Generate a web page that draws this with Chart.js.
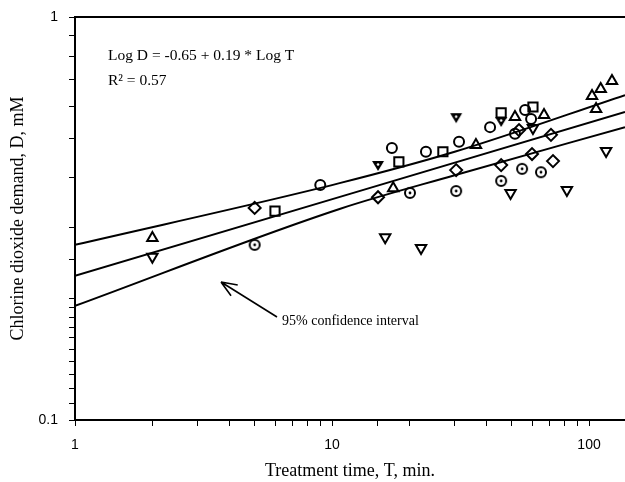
<!DOCTYPE html>
<html>
<head>
<meta charset="utf-8">
<script src="https://cdn.jsdelivr.net/npm/chart.js@4.4.1/dist/chart.umd.min.js"></script>
<style>
  html, body { margin: 0; padding: 0; background: #fff; overflow: hidden; }
  canvas { display: block; }
</style>
</head>
<body>
<canvas id="chart" width="625" height="482"></canvas>
<script>
// Treatment time T (min) vs chlorine dioxide demand D (mM)
const triUpT = [2.0, 17.3, 36.3, 51.5, 66.8, 102.7, 106.5, 111, 122.8];
const triUpD = [0.283, 0.376, 0.481, 0.565, 0.571, 0.637, 0.591, 0.663, 0.694];

const triDownT = [2.0, 16.1, 22.2, 49.5, 60.5, 82, 116.5];
const triDownD = [0.254, 0.284, 0.267, 0.366, 0.530, 0.372, 0.465];

const triDarkT = [15.1, 30.4, 45.5];
const triDarkD = [0.427, 0.561, 0.549];

const squareT = [6.0, 18.2, 27.0, 45.5, 60.5];
const squareD = [0.330, 0.437, 0.463, 0.578, 0.598];

const circleT = [9.0, 17.1, 23.2, 31.2, 41.2, 51.5, 56.4, 59.5];
const circleD = [0.383, 0.473, 0.463, 0.490, 0.533, 0.513, 0.588, 0.558];

const dotT = [5.0, 20.1, 30.4, 45.5, 54.9, 65.0];
const dotD = [0.272, 0.366, 0.370, 0.392, 0.420, 0.412];

const diamondT = [5.0, 15.1, 30.4, 45.5, 53.4, 60.0, 71.1, 72.4];
const diamondD = [0.336, 0.357, 0.417, 0.429, 0.524, 0.457, 0.510, 0.439];

// regression line and 95% confidence band
const fitT = [1, 138];
const fitD = [0.228, 0.581];
const bandT = [1, 10.7, 30, 138];
const upperD = [0.272, 0.387, 0.463, 0.640];
const lowerD = [0.192, 0.334, 0.405, 0.533];

const xTickLabels = [1, 10, 100];
const yTickLabels = [0.1, 1];

const pts = (xs, ys) => xs.map((x, i) => ({ x: x, y: ys[i] }));

// circle with a dot in the middle
function dotMarker() {
    const c = document.createElement('canvas');
    c.width = 14; c.height = 14;
    const g = c.getContext('2d');
    g.strokeStyle = '#000';
    g.lineWidth = 2;
    g.beginPath(); g.arc(7, 7, 5, 0, Math.PI * 2); g.stroke();
    g.fillStyle = '#000';
    g.beginPath(); g.arc(7, 7, 1.4, 0, Math.PI * 2); g.fill();
    return c;
}

// dark down-triangle with a small light centre
function darkTriMarker() {
    const c = document.createElement('canvas');
    c.width = 14; c.height = 14;
    const g = c.getContext('2d');
    g.fillStyle = '#000';
    g.beginPath(); g.moveTo(1, 2); g.lineTo(13, 2); g.lineTo(7, 12); g.closePath(); g.fill();
    g.fillStyle = '#fff';
    g.beginPath(); g.arc(7, 5.5, 1.3, 0, Math.PI * 2); g.fill();
    return c;
}

function lineSet(xs, ys) {
    return {
        type: 'line', data: pts(xs, ys), borderColor: '#000', borderWidth: 2,
        pointRadius: 0, fill: false, cubicInterpolationMode: 'monotone'
    };
}

function markerSet(xs, ys, style, r, rot) {
    return {
        type: 'scatter', data: pts(xs, ys), pointStyle: style, pointRadius: r,
        rotation: rot || 0, borderColor: '#000', borderWidth: 2,
        backgroundColor: 'rgba(0,0,0,0)'
    };
}

const isLabel = (v, list) => list.some(t => Math.abs(v / t - 1) < 1e-6);

// keep the plot frame at fixed pixel edges
function fixBox(s, w, h) {
    if (w !== null) s.width = w;
    if (h !== null) s.height = h;
    s.paddingLeft = 0; s.paddingRight = 0; s.paddingTop = 0; s.paddingBottom = 0;
}

// equation, R^2 and the confidence-interval arrow
const notes = {
    id: 'notes',
    afterDatasetsDraw(chart) {
        const ctx = chart.ctx;
        ctx.save();
        ctx.fillStyle = '#000';
        ctx.strokeStyle = '#000';
        ctx.textBaseline = 'middle';
        ctx.font = '15.5px "Liberation Serif"';
        ctx.fillText('Log D = -0.65 + 0.19 * Log T', 108, 56);
        ctx.fillText('R\u00b2 = 0.57', 108, 81);
        ctx.font = '14px "Liberation Serif"';
        ctx.fillText('95% confidence interval', 282, 321);

        const tip = [221, 282], tail = [277, 317];
        ctx.lineWidth = 1.6;
        ctx.beginPath();
        ctx.moveTo(tail[0], tail[1]);
        ctx.lineTo(tip[0], tip[1]);
        const ang = Math.atan2(tail[1] - tip[1], tail[0] - tip[0]);
        [-0.38, 0.38].forEach(d => {
            ctx.moveTo(tip[0], tip[1]);
            ctx.lineTo(tip[0] + 17 * Math.cos(ang + d), tip[1] + 17 * Math.sin(ang + d));
        });
        ctx.stroke();
        ctx.restore();
    }
};

const tickFont = { family: '"Liberation Sans", Arial, sans-serif', size: 14 };
const titleFont = { family: '"Liberation Serif", "Times New Roman", serif', size: 18 };

new Chart(document.getElementById('chart'), {
    data: {
        datasets: [
            lineSet(bandT, upperD),
            lineSet(fitT, fitD),
            lineSet(bandT, lowerD),
            markerSet(triUpT, triUpD, 'triangle', 6),
            markerSet(triDownT, triDownD, 'triangle', 6, 180),
            markerSet(triDarkT, triDarkD, darkTriMarker(), 6),
            markerSet(squareT, squareD, 'rect', 6.5),
            markerSet(circleT, circleD, 'circle', 5),
            markerSet(dotT, dotD, dotMarker(), 5),
            markerSet(diamondT, diamondD, 'rectRot', 6)
        ]
    },
    options: {
        responsive: false,
        animation: false,
        devicePixelRatio: 1,
        layout: { padding: 0, autoPadding: false },
        plugins: { legend: { display: false }, tooltip: { enabled: false } },
        scales: {
            x: {
                type: 'logarithmic', position: 'bottom', min: 1, max: 138,
                grid: { drawOnChartArea: false, color: '#000', tickLength: 6 },
                border: { color: '#000', width: 2 },
                ticks: {
                    autoSkip: false, maxRotation: 0, padding: 11, color: '#000', font: tickFont,
                    callback: v => isLabel(v, xTickLabels) ? String(v) : ''
                },
                title: { display: true, text: 'Treatment time, T, min.', color: '#000', font: titleFont, padding: { top: 0, bottom: 0 } },
                afterFit: s => fixBox(s, null, 62)
            },
            x2: {
                type: 'logarithmic', position: 'top', min: 1, max: 138,
                grid: { display: false },
                border: { display: true, color: '#000', width: 2 },
                ticks: { display: false },
                afterFit: s => fixBox(s, null, 17)
            },
            y: {
                type: 'logarithmic', min: 0.1, max: 1,
                grid: { drawOnChartArea: false, color: '#000', tickLength: 6 },
                border: { color: '#000', width: 2 },
                ticks: {
                    autoSkip: false, padding: 11, color: '#000', font: tickFont,
                    callback: v => isLabel(v, yTickLabels) ? String(v) : ''
                },
                title: { display: true, text: 'Chlorine dioxide demand, D, mM', color: '#000', font: titleFont, padding: { top: 7, bottom: 0 } },
                afterFit: s => fixBox(s, 75, null)
            }
        }
    },
    plugins: [notes]
});
</script>
</body>
</html>
